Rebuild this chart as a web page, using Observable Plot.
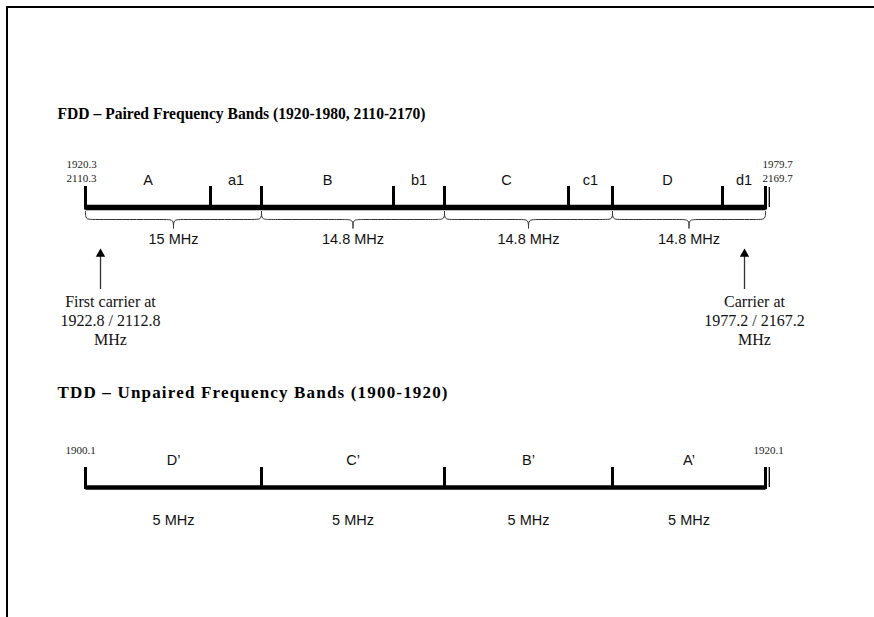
<!DOCTYPE html>
<html><head><meta charset="utf-8">
<script src="https://cdn.jsdelivr.net/npm/d3@7"></script>
<script src="https://cdn.jsdelivr.net/npm/@observablehq/plot@0.6"></script>
<style>
html,body{margin:0;padding:0;background:#fff;}
#wrap{position:relative;width:874px;height:617px;overflow:hidden;}
#frame{position:absolute;left:6px;top:6px;width:900px;height:700px;border-left:2px solid #000;border-top:2px solid #000;}
#chart{position:absolute;left:0;top:0;}
</style></head><body>
<div id="wrap"><div id="frame"></div><div id="chart"></div></div>
<script>
// ---------------- data (schematic widths) ----------------
const fddTitle = "FDD – Paired Frequency Bands (1920-1980, 2110-2170)";
const tddTitle = "TDD – Unpaired Frequency Bands (1900-1920)";

const fddSegments = ["A", "a1", "B", "b1", "C", "c1", "D", "d1"];
const fddWidths   = [125, 51, 132, 51, 124, 44, 110, 43];
const fddBlocks   = ["15 MHz", "14.8 MHz", "14.8 MHz", "14.8 MHz"]; // each block = 2 segments
const fddStartLabel = "1920.3\n2110.3";
const fddEndLabel   = "1979.7\n2169.7";

const carrierNotes = ["First carrier at\n1922.8 / 2112.8\nMHz", "Carrier at\n1977.2 / 2167.2\nMHz"];
const carrierAt    = [15, 659];   // arrow position along the band (schematic units)
const carrierText  = [25, 669];   // text centre along the band

const tddSegments = ["D’", "C’", "B’", "A’"];
const tddWidths   = [176, 183, 168, 153];
const tddBlocks   = ["5 MHz", "5 MHz", "5 MHz", "5 MHz"];
const tddStartLabel = "1900.1";
const tddEndLabel   = "1920.1";

// ---------------- layout ----------------
const SERIF = "'Liberation Serif', 'Times New Roman', serif";
const SANS  = "'Liberation Sans', Arial, sans-serif";
const ROW = {
  fddTitle: 113, fddEdge: 170, fddLabel: 180, fddTick: 186, fddBar: 207,
  braceTop: 211, braceMid: 219, braceTip: 227.5, fddBlock: 239,
  arrowTip: 253.5, arrowBase: 289, note: 319,
  tddTitle: 392, tddEdge: 450, tddLabel: 460, tddTick: 467, tddBar: 487, tddBlock: 520
};
const titleX = -28, endGap = 3.8;
const TITLE_LEN = {fdd: 368, tdd: 390};

function cum(widths) { const b = [0]; widths.forEach(w => b.push(b[b.length - 1] + w)); return b; }
const fddB = cum(fddWidths), tddB = cum(tddWidths);
const total = fddB[fddB.length - 1];

const fddSeg = fddSegments.map((s, i) => ({label: s, x0: fddB[i], x1: fddB[i + 1]}));
const fddBlk = fddBlocks.map((s, i) => ({label: s, x0: fddB[2 * i], x1: fddB[2 * i + 2]}));
const tddSeg = tddSegments.map((s, i) => ({label: s, x0: tddB[i], x1: tddB[i + 1]}));
const tddBlk = tddBlocks.map((s, i) => ({label: s, x0: tddB[i], x1: tddB[i + 1]}));
const notes = carrierNotes.map((t, i) => ({text: t, x: carrierAt[i], tx: carrierText[i]}));

// brace control points (basis curve)
const braces = [];
fddBlk.forEach((b, k) => {
  const a = b.x0, e = b.x1, m = (a + e) / 2, r = 7;
  const L = [[a, ROW.braceTop], [a, ROW.braceMid], [a + r, ROW.braceMid], [m - r, ROW.braceMid], [m, ROW.braceMid], [m, ROW.braceTip]];
  const R = [[e, ROW.braceTop], [e, ROW.braceMid], [e - r, ROW.braceMid], [m + r, ROW.braceMid], [m, ROW.braceMid], [m, ROW.braceTip]];
  L.forEach(p => braces.push({x: p[0], y: p[1], z: k + "L"}));
  R.forEach(p => braces.push({x: p[0], y: p[1], z: k + "R"}));
});

const mid = d => (d.x0 + d.x1) / 2;

const chart = Plot.plot({
  width: 874, height: 617,
  marginLeft: 85, marginRight: 109, marginTop: 0, marginBottom: 0,
  x: {domain: [0, total], axis: null},
  y: {domain: [0, 617], range: [0, 617], axis: null},
  marks: [
    // titles
    Plot.text([fddTitle], {x: titleX, y: ROW.fddTitle, text: d => d, textAnchor: "start", fontFamily: SERIF, fontWeight: "bold", fontSize: 17, fill: "#000"}),
    Plot.text([tddTitle], {x: titleX, y: ROW.tddTitle, text: d => d, textAnchor: "start", fontFamily: SERIF, fontWeight: "bold", fontSize: 17, fill: "#000"}),

    // FDD band
    Plot.link([{x1: 0, x2: total}], {x1: "x1", x2: "x2", y1: ROW.fddBar, y2: ROW.fddBar, stroke: "#000", strokeWidth: 5.5}),
    Plot.ruleX(fddB, {x: d => d, y1: ROW.fddTick, y2: ROW.fddBar + 2.5, stroke: "#000", strokeWidth: 3}),
    Plot.ruleX([total + endGap], {x: d => d, y1: ROW.fddTick + 1, y2: ROW.fddBar, stroke: "#000", strokeWidth: 1.3}),
    Plot.text(fddSeg, {x: mid, y: ROW.fddLabel, text: "label", fontFamily: SANS, fontSize: 14.5, fill: "#111"}),
    Plot.text([fddStartLabel], {x: fddB[0] - 4, y: ROW.fddEdge, text: d => d, fontFamily: SERIF, fontSize: 11, lineHeight: 1.3, fill: "#222"}),
    Plot.text([fddEndLabel], {x: total + 12, y: ROW.fddEdge, text: d => d, fontFamily: SERIF, fontSize: 11, lineHeight: 1.3, fill: "#222"}),
    Plot.line(braces, {x: "x", y: "y", z: "z", curve: "basis", stroke: "#333", strokeWidth: 1}),
    Plot.text(fddBlk, {x: mid, y: ROW.fddBlock, text: "label", fontFamily: SANS, fontSize: 14.5, fill: "#111"}),

    // carrier arrows and notes
    Plot.ruleX(notes, {x: "x", y1: ROW.arrowTip, y2: ROW.arrowBase, stroke: "#333", strokeWidth: 1.3}),
    Plot.dot(notes, {x: "x", y: ROW.arrowTip, symbol: "triangle", r: 3.5, fill: "#000", stroke: "none"}),
    Plot.text(notes, {x: "tx", y: ROW.note, text: "text", fontFamily: SERIF, fontSize: 16, lineHeight: 1.19, fill: "#111"}),

    // TDD band
    Plot.link([{x1: 0, x2: total}], {x1: "x1", x2: "x2", y1: ROW.tddBar, y2: ROW.tddBar, stroke: "#000", strokeWidth: 4.5}),
    Plot.ruleX(tddB, {x: d => d, y1: ROW.tddTick, y2: ROW.tddBar + 2, stroke: "#000", strokeWidth: 3}),
    Plot.ruleX([total + endGap], {x: d => d, y1: ROW.tddTick, y2: ROW.tddBar, stroke: "#000", strokeWidth: 1.3}),
    Plot.text(tddSeg, {x: mid, y: ROW.tddLabel, text: "label", fontFamily: SANS, fontSize: 14.5, fill: "#111"}),
    Plot.text([tddStartLabel], {x: tddB[0] - 5, y: ROW.tddEdge, text: d => d, fontFamily: SERIF, fontSize: 11, fill: "#222"}),
    Plot.text([tddEndLabel], {x: total + 3, y: ROW.tddEdge, text: d => d, fontFamily: SERIF, fontSize: 11, fill: "#222"}),
    Plot.text(tddBlk, {x: mid, y: ROW.tddBlock, text: "label", fontFamily: SANS, fontSize: 14.5, fill: "#111"})
  ]
});
chart.style.background = "transparent";
// fit the two section headings to the widths they have in the reference
d3.select(chart).selectAll("text").each(function () {
  if (this.textContent === fddTitle) d3.select(this).attr("textLength", TITLE_LEN.fdd).attr("lengthAdjust", "spacingAndGlyphs");
  if (this.textContent === tddTitle) d3.select(this).attr("textLength", TITLE_LEN.tdd).attr("lengthAdjust", "spacing");
});
document.getElementById("chart").appendChild(chart);
</script>
</body></html>
